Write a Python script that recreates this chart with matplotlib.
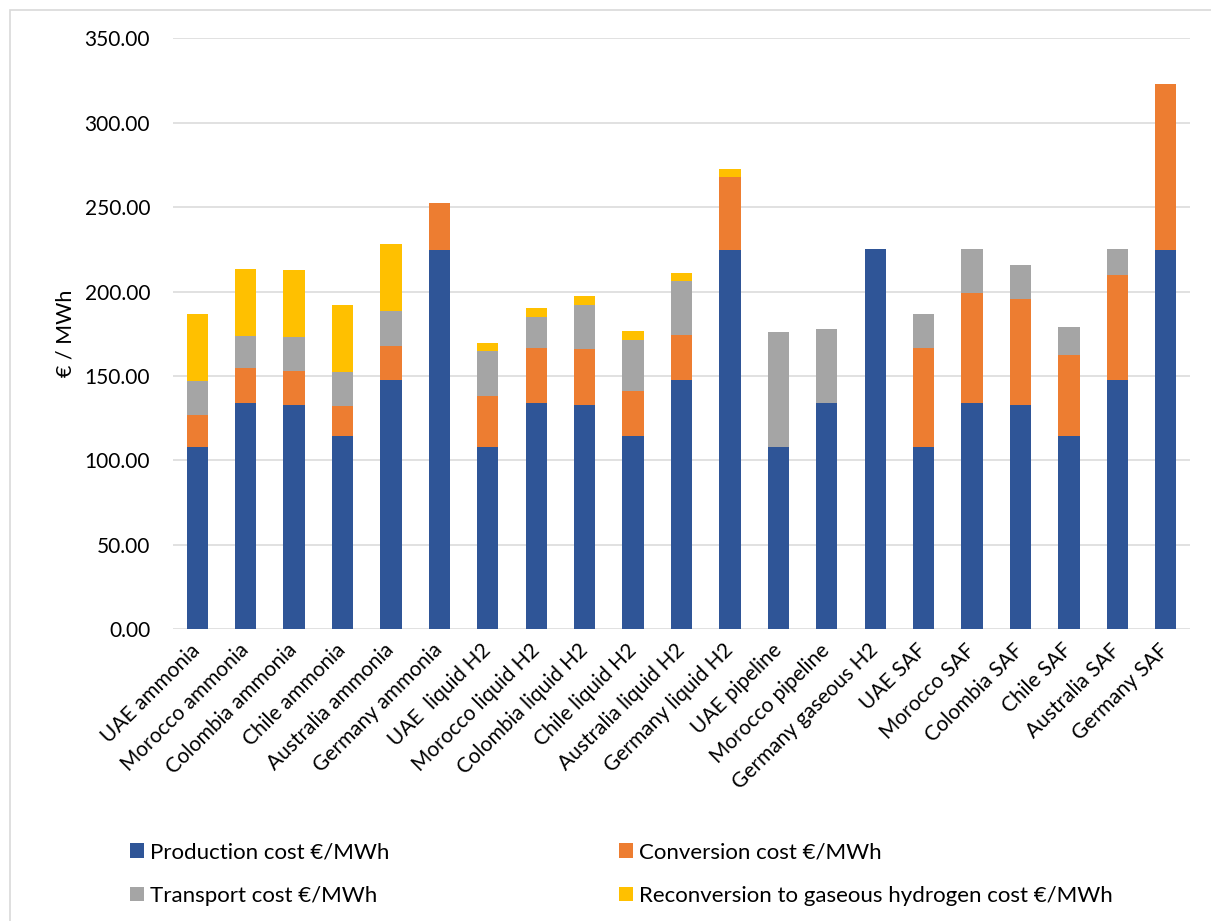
import numpy as np
import matplotlib
matplotlib.use("Agg")
import matplotlib.pyplot as plt
from matplotlib.patches import Rectangle

plt.rcParams["font.family"] = ["Lato", "DejaVu Sans"]

# Cost breakdown per route, €/MWh
routes = ["UAE ammonia", "Morocco ammonia", "Colombia ammonia", "Chile ammonia",
          "Australia ammonia", "Germany ammonia", "UAE  liquid H2", "Morocco liquid H2",
          "Colombia liquid H2", "Chile liquid H2", "Australia liquid H2",
          "Germany liquid H2", "UAE pipeline", "Morocco pipeline", "Germany gaseous H2",
          "UAE SAF", "Morocco SAF", "Colombia SAF", "Chile SAF", "Australia SAF",
          "Germany SAF"]

production = [107.7, 133.8, 132.6, 114.6, 147.5, 224.4, 107.7, 133.8, 132.6, 114.6,
              147.5, 224.4, 107.7, 133.8, 225.2, 107.7, 133.8, 132.6, 114.6, 147.5,
              224.4]
conversion = [19.4, 20.8, 20.2, 17.4, 20.1, 28.0, 30.3, 32.6, 33.5, 26.6,
              26.7, 43.5, 0.0, 0.0, 0.0, 59.0, 65.4, 62.9, 47.6, 62.1,
              98.9]
transport = [20.2, 19.2, 20.0, 20.6, 20.8, 0.0, 26.5, 18.6, 25.8, 30.4,
             32.0, 0.0, 68.5, 44.2, 0.0, 20.1, 26.0, 20.3, 17.0, 15.4,
             0.0]
reconversion = [39.7, 39.7, 39.9, 39.7, 40.1, 0.0, 4.9, 5.2, 5.2, 5.1,
                5.1, 4.7, 0.0, 0.0, 0.0, 0.0, 0.0, 0.0, 0.0, 0.0,
                0.0]

series = [
    ("Production cost €/MWh", production, "#2F5597"),
    ("Conversion cost €/MWh", conversion, "#ED7D31"),
    ("Transport cost €/MWh", transport, "#A5A5A5"),
    ("Reconversion to gaseous hydrogen cost €/MWh", reconversion, "#FFC000"),
]

fig = plt.figure(figsize=(12.11, 9.21), dpi=100)
ax = fig.add_axes([0.1429, 0.3170, 0.8398, 0.6412])

x = np.arange(len(routes))
bottom = np.zeros(len(routes))
handles = {}
for name, vals, color in series:
    vals = np.array(vals)
    bars = ax.bar(x, vals, 0.44, bottom=bottom, color=color, label=name, zorder=3)
    handles[name] = bars
    bottom += vals

ax.set_xlim(-0.5, len(routes) - 0.5)
ax.set_ylim(0, 350)
ax.set_yticks(np.arange(0, 351, 50))
ax.set_yticklabels([f"{v:.2f}" for v in np.arange(0, 351, 50)])
ax.yaxis.grid(True, color="#D9D9D9", linewidth=1.1, zorder=0)
for s in ax.spines.values():
    s.set_visible(False)
ax.tick_params(axis="y", length=0, pad=16.5, labelsize=15)
ax.tick_params(axis="x", length=0, pad=13, labelsize=15)
ax.set_xticks(x)
ax.set_xticklabels(routes, rotation=45, ha="right", va="center", rotation_mode="anchor")
ax.set_ylabel("€ / MWh", fontsize=15.5)
ax.yaxis.set_label_coords(-0.0964, 0.5)

# legend: first column production/transport, second conversion/reconversion
order = ["Production cost €/MWh", "Transport cost €/MWh",
         "Conversion cost €/MWh", "Reconversion to gaseous hydrogen cost €/MWh"]
fig.legend([handles[n] for n in order], order, ncol=2, loc="upper left",
           bbox_to_anchor=(0.1, 0.095), bbox_transform=fig.transFigure,
           frameon=False, fontsize=16, handlelength=0.62, handleheight=0.62,
           handletextpad=0.28, columnspacing=10.35, labelspacing=1.05,
           borderaxespad=0)

# chart area border
fig.add_artist(Rectangle((10 / 1211, -0.05), 1.1, 1 - 10 / 921 + 0.05,
                         transform=fig.transFigure, fill=False,
                         edgecolor="#D9D9D9", linewidth=1.2))

fig.savefig("out.png", dpi=100)
